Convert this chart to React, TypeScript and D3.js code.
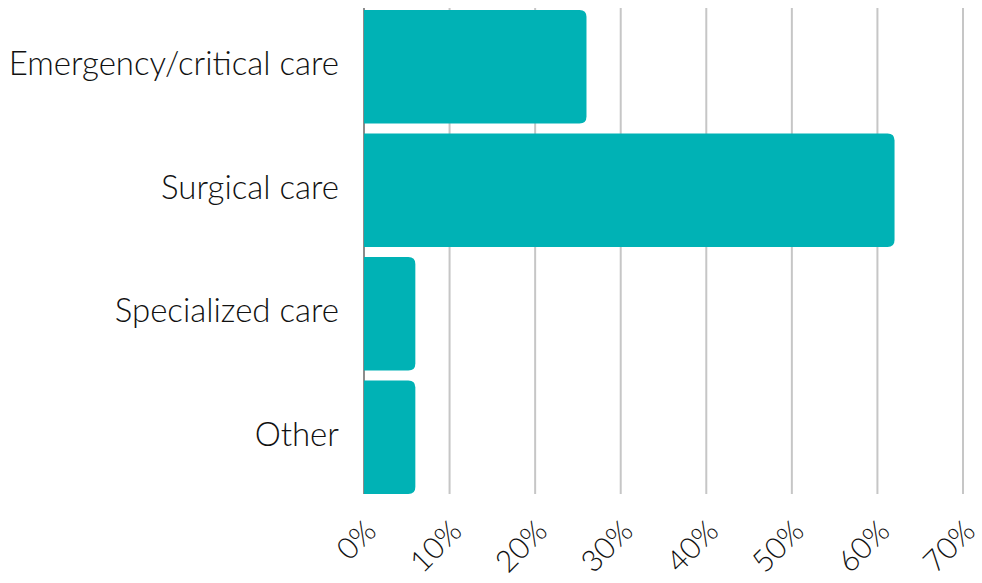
import React from "react";
import * as d3 from "d3";

const categories = ["Emergency/critical care", "Surgical care", "Specialized care", "Other"];
const values = [26, 62, 6, 6];
const ticks = [0, 10, 20, 30, 40, 50, 60, 70];

const W = 982;
const H = 583;
const COLOR = "#00B2B5";
const FONT = "Lato, 'Open Sans', sans-serif";

function barPath(x0: number, x1: number, y0: number, h: number, r: number) {
  const rr = Math.min(r, (x1 - x0) / 2, h / 2);
  return `M${x0},${y0}H${x1 - rr}Q${x1},${y0} ${x1},${y0 + rr}V${y0 + h - rr}Q${x1},${y0 + h} ${x1 - rr},${y0 + h}H${x0}Z`;
}

export default function App() {
  const x = d3.scaleLinear().domain([0, 70]).range([364, 963]);
  const y = d3.scaleBand<string>().domain(categories).range([5, 499]).paddingInner(0.08).paddingOuter(0.04);
  const gridTop = 8;
  const gridBottom = 494;
  return (
    <svg width={W} height={H} style={{ position: "absolute", left: 0, top: 0 }}>
      <rect width={W} height={H} fill="#fff" />
      {ticks.filter((t) => t > 0).map((t) => (
        <line key={t} x1={x(t)} x2={x(t)} y1={gridTop} y2={gridBottom} stroke="#c6c6c6" strokeWidth={2} />
      ))}
      <line x1={x(0)} x2={x(0)} y1={gridTop} y2={gridBottom} stroke="#666" strokeWidth={1.5} />
      {categories.map((c, i) => (
        <path key={c} d={barPath(x(0), x(values[i]), y(c)!, y.bandwidth(), 7)} fill={COLOR} />
      ))}
      {categories.map((c) => (
        <text
          key={c}
          x={339}
          y={y(c)! + y.bandwidth() / 2 - 3}
          dy="0.35em"
          textAnchor="end"
          fontFamily={FONT}
          fontWeight={300}
          fontSize={33}
          fill="#111"
        >
          {c}
        </text>
      ))}
      {ticks.map((t) => (
        <text
          key={t}
          transform={`translate(${x(t) + 14},${533}) rotate(-45)`}
          textAnchor="end"
          fontFamily={FONT}
          fontWeight={300}
          fontSize={30}
          fill="#111"
        >
          {t}%
        </text>
      ))}
    </svg>
  );
}
